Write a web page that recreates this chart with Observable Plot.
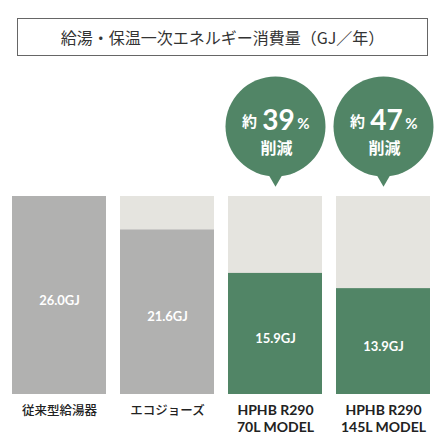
<!DOCTYPE html>
<html>
<head>
<meta charset="utf-8">
<script src="https://cdn.jsdelivr.net/npm/d3@7"></script>
<script src="https://cdn.jsdelivr.net/npm/@observablehq/plot@0.6"></script>
<style>
  body { margin: 0; background: #fff; font-family: "Noto Sans CJK JP", "Noto Sans", sans-serif; }
  #title {
    box-sizing: border-box;
    margin: 18px 17px 0 17px;
    height: 38px;
    border: 1px solid #666;
    text-align: center;
    line-height: 36px;
    font-size: 16px;
    color: #333;
  }
  #chart { margin-top: 4px; }
</style>
</head>
<body>
<div id="title">給湯・保温一次エネルギー消費量（GJ／年）</div>
<div id="chart"></div>
<script>
const ids = ["a", "b", "c", "d"]
const names = ["従来型給湯器", "エコジョーズ", "HPHB R290\n70L MODEL", "HPHB R290\n145L MODEL"]
const values = [26.0, 21.6, 15.9, 13.9]
const kinds = ["gas", "gas", "hp", "hp"]
const cuts = ["", "", "39", "47"]

const maxValue = 26.0
const rows = ids.map((id, i) => ({
  id, value: values[i], kind: kinds[i], cut: cuts[i],
  line1: names[i].split("\n")[0], line2: names[i].split("\n")[1] || ""
}))
const bubbles = rows.filter(d => d.cut)
const hp = rows.filter(d => d.kind === "hp")

const font = "Noto Sans CJK JP"
const latin = "Lato"
const green = "#518566"

const chart = Plot.plot({
  width: 445,
  height: 388,
  marginLeft: 12,
  marginRight: 15,
  marginTop: 136,
  marginBottom: 54,
  style: {fontFamily: font, background: "#fff"},
  x: {domain: ids, paddingInner: 0.13, paddingOuter: 0, axis: null},
  y: {domain: [0, maxValue], axis: null},
  marks: [
    // full-height backdrop
    Plot.barY(rows, {x: "id", y: maxValue, fill: "#e5e4df"}),
    Plot.barY(rows, {x: "id", y: "value", fill: d => d.kind === "hp" ? green : "#b1b1b0"}),
    Plot.text(rows, {
      x: "id", y: d => d.value / 2, dy: 5,
      text: d => d.value.toFixed(1) + "GJ",
      fill: "white", fontSize: 13, fontWeight: "bold", fontFamily: latin,
      style: {letterSpacing: "0.5px"}
    }),
    // category labels
    Plot.text(rows.filter(d => d.kind !== "hp"), {
      x: "id", y: 0, dy: 16, text: "line1",
      fill: "#222", fontSize: 12.5, fontWeight: 500, fontFamily: font
    }),
    Plot.text(hp, {
      x: "id", y: 0, dy: 16, text: "line1",
      fill: "#222", fontSize: 14, fontWeight: "bold", fontFamily: latin
    }),
    Plot.text(hp, {
      x: "id", y: 0, dy: 33, text: "line2",
      fill: "#222", fontSize: 14, fontWeight: "bold", fontFamily: latin
    }),
    // reduction bubbles
    Plot.dot(bubbles, {x: "id", y: maxValue, dy: -19, symbol: "triangle", rotate: 180, r: 6, fill: green}),
    Plot.dot(bubbles, {x: "id", y: maxValue, dy: -70, r: 50, fill: green}),
    Plot.text(bubbles, {x: "id", y: maxValue, dx: -26, dy: -74, text: () => "約", fill: "white", fontSize: 15, fontWeight: "bold", fontFamily: font}),
    Plot.text(bubbles, {x: "id", y: maxValue, dx: 3, dy: -75, text: "cut", fill: "white", fontSize: 28, fontWeight: "bold", fontFamily: latin, style: {letterSpacing: "1px"}}),
    Plot.text(bubbles, {x: "id", y: maxValue, dx: 28, dy: -72, text: () => "%", fill: "white", fontSize: 15, fontWeight: "bold", fontFamily: latin}),
    Plot.text(bubbles, {x: "id", y: maxValue, dx: 1, dy: -48, text: () => "削減", fill: "white", fontSize: 16, fontWeight: "bold", fontFamily: font})
  ]
})

d3.select("#chart").append(() => chart)
</script>
</body>
</html>
